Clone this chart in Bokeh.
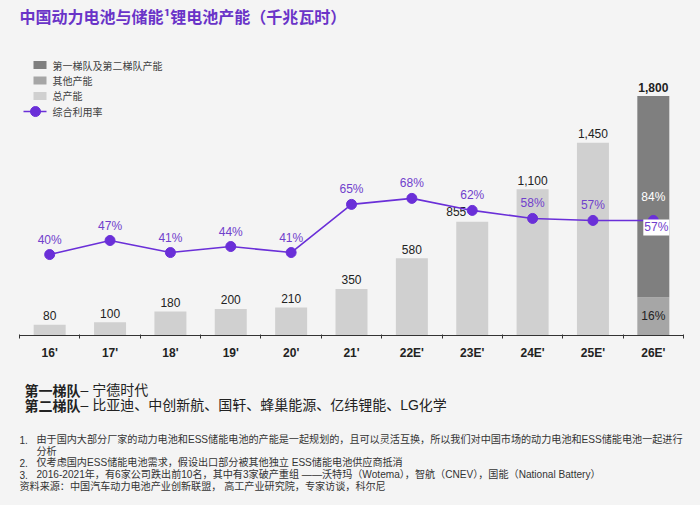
from bokeh.plotting import figure
from bokeh.models import Range1d, FixedTicker, Label
from bokeh.layouts import column
from bokeh.embed import file_html
from bokeh.resources import INLINE
from bokeh.core.properties import value

# ---------------- data ----------------
categories = ["16'", "17'", "18'", "19'", "20'", "21'", "22E'", "23E'", "24E'", "25E'", "26E'"]
total_capacity = [80, 100, 180, 200, 210, 350, 580, 855, 1100, 1450, 1800]
utilization = [40, 47, 41, 44, 41, 65, 68, 62, 58, 57, 57]
tier12_share_26 = 84
other_share_26 = 16

title_text = "中国动力电池与储能¹锂电池产能（千兆瓦时）"
legend_labels = ["第一梯队及第二梯队产能", "其他产能", "总产能", "综合利用率"]
tier_lines = [("第一梯队", "– 宁德时代"),
              ("第二梯队", "– 比亚迪、中创新航、国轩、蜂巢能源、亿纬锂能、LG化学")]
note_nums = ["1.", "", "2.", "3.", ""]
note_texts = [
    "由于国内大部分厂家的动力电池和ESS储能电池的产能是一起规划的，且可以灵活互换，所以我们对中国市场的动力电池和ESS储能电池一起进行",
    "分析",
    "仅考虑国内ESS储能电池需求，假设出口部分被其他独立 ESS储能电池供应商抵消",
    "2016-2021年，有6家公司跌出前10名，其中有3家破产重组 ——沃特玛（Wotema），智航（CNEV），国能（National Battery）",
    "资料来源：中国汽车动力电池产业创新联盟， 高工产业研究院，专家访谈，科尔尼",
]

# ---------------- styles ----------------
BG = "#f4f4f4"
C_DARK = "#7f7f7f"
C_MID = "#a6a6a6"
C_LIGHT = "#d0d0d0"
PURPLE = "#6a2fd8"
PURPLE_TXT = "#7040cc"
TITLE_C = "#6a34c8"
TXT = "#222222"
CJK = value("Noto Sans CJK SC")
LAT = value("Liberation Sans")
MIX = value("Liberation Sans, Noto Sans CJK SC")

W = 700
FL, FR = 19, 683          # frame left / right (page px)
FRAME_H = 337             # frame from page y 0 to 337 (axis line)
n = len(categories)
idx = list(range(n))

p = figure(width=W, height=FRAME_H + 25, output_backend="svg", toolbar_location=None,
           x_range=Range1d(-0.5, n - 0.5), y_range=Range1d(0, FRAME_H / 0.1338),
           y_axis_location=None, title=None,
           min_border_left=FL, min_border_right=W - FR, min_border_top=0, min_border_bottom=25)
p.extra_y_ranges = {"pct": Range1d(-0.35, (FRAME_H - 0.7) / 2.014 - 0.35),
                    "pxy": Range1d(FRAME_H, 0)}
p.extra_x_ranges = {"px": Range1d(FL, FR)}
p.background_fill_color = BG
p.border_fill_color = BG
p.outline_line_color = None
p.xgrid.grid_line_color = None
p.ygrid.grid_line_color = None

# bars
last = n - 1
p.vbar(x=idx[:last], top=total_capacity[:last], width=0.53,
       fill_color=C_LIGHT, line_color=None)
other_top = total_capacity[last] * other_share_26 / 100
p.vbar(x=[last], bottom=[0], top=[other_top], width=0.53, fill_color=C_MID, line_color=None)
p.vbar(x=[last], bottom=[other_top], top=[total_capacity[last]], width=0.53,
       fill_color=C_DARK, line_color=None)

# bar value labels
lab_i = [i for i in range(last) if i != 7]
p.text(x=[idx[i] for i in lab_i], y=[total_capacity[i] for i in lab_i],
       text=[f"{total_capacity[i]:,}" for i in lab_i],
       text_align="center", text_baseline="middle", y_offset=-9,
       text_font=LAT, text_font_size="12px", text_color=TXT)
p.text(x=[idx[7]], y=[total_capacity[7]], text=[f"{total_capacity[7]:,}"],
       text_align="right", text_baseline="middle", x_offset=-6, y_offset=-10,
       text_font=LAT, text_font_size="12px", text_color=TXT)
p.text(x=[idx[last]], y=[total_capacity[last]], text=[f"{total_capacity[last]:,}"],
       text_align="center", text_baseline="middle", y_offset=-9,
       text_font=LAT, text_font_size="12px", text_font_style="bold", text_color=TXT)
p.text(x=[idx[last]], y=[total_capacity[last] * (other_share_26 + tier12_share_26 / 2) / 100],
       text=[f"{tier12_share_26}%"], text_align="center", text_baseline="middle",
       text_font=LAT, text_font_size="12px", text_color="white")
p.text(x=[idx[last]], y=[other_top / 2], text=[f"{other_share_26}%"],
       text_align="center", text_baseline="middle",
       text_font=LAT, text_font_size="12px", text_color=TXT)

# utilization line
p.line(idx, utilization, y_range_name="pct", line_color=PURPLE, line_width=1.6)
p.scatter(idx, utilization, y_range_name="pct", size=10, fill_color=PURPLE, line_color=PURPLE)
p.text(x=idx[:last], y=utilization[:last], y_range_name="pct",
       text=[f"{u}%" for u in utilization[:last]],
       text_align="center", text_baseline="middle", y_offset=-15,
       text_font=LAT, text_font_size="12px", text_color=PURPLE_TXT)
p.add_layout(Label(x=idx[last], y=utilization[last], y_range_name="pct",
                   text=f"{utilization[last]}%", x_offset=3, y_offset=-7,
                   text_align="center", text_baseline="middle",
                   text_font="Liberation Sans", text_font_size="12px", text_color=PURPLE_TXT,
                   background_fill_color="white", padding=1))

# x axis
ax = p.xaxis[0]
ax.ticker = FixedTicker(ticks=idx, minor_ticks=[i - 0.5 for i in range(n + 1)])
ax.major_label_overrides = {i: c for i, c in enumerate(categories)}
ax.axis_line_color = "#333333"
ax.axis_line_width = 1.2
ax.major_tick_line_color = None
ax.major_tick_out = 0
ax.major_tick_in = 0
ax.minor_tick_line_color = "#333333"
ax.minor_tick_out = 3
ax.minor_tick_in = 1
ax.major_label_text_font = "Liberation Sans"
ax.major_label_text_font_style = "bold"
ax.major_label_text_font_size = "12px"
ax.major_label_text_color = TXT
ax.major_label_standoff = 7

# title
p.text(x=[19], y=[16], text=[title_text], x_range_name="px", y_range_name="pxy",
       text_align="left", text_baseline="middle", text_font=CJK, text_font_style="bold",
       text_font_size="16px", text_color=TITLE_C)

# legend (manual)
leg_y = [65, 80.5, 96, 111.7]
p.rect(x=[39.5] * 3, y=leg_y[:3], width=13, height=8,
       width_units="screen", height_units="screen",
       fill_color=[C_DARK, C_MID, C_LIGHT], line_color=None,
       x_range_name="px", y_range_name="pxy")
p.line(x=[23, 46], y=[leg_y[3]] * 2, x_range_name="px", y_range_name="pxy",
       line_color=PURPLE, line_width=1.6)
p.scatter(x=[35], y=[leg_y[3]], x_range_name="px", y_range_name="pxy",
          size=10, fill_color=PURPLE, line_color=PURPLE)
p.text(x=[52] * 4, y=leg_y, text=legend_labels,
       x_range_name="px", y_range_name="pxy", text_align="left", text_baseline="middle",
       text_font=CJK, text_font_size="10px", text_color="#404040")

# ---------------- bottom text panel (page coordinates) ----------------
q = figure(width=W, height=505 - (FRAME_H + 25), output_backend="svg", toolbar_location=None,
           x_range=Range1d(FL, FR), y_range=Range1d(505, FRAME_H + 25),
           x_axis_location=None, y_axis_location=None, title=None,
           min_border_left=FL, min_border_right=W - FR, min_border_top=0, min_border_bottom=0)
q.background_fill_color = BG
q.border_fill_color = BG
q.outline_line_color = None
q.xgrid.grid_line_color = None
q.ygrid.grid_line_color = None

tier_y = [389.5, 404]
q.text(x=[24] * 2, y=tier_y, text=[t[0] for t in tier_lines],
       text_align="left", text_baseline="middle", text_font=CJK, text_font_style="bold",
       text_font_size="14px", text_color=TXT)
q.text(x=[24 + 4 * 14] * 2, y=tier_y, text=[t[1] for t in tier_lines],
       text_align="left", text_baseline="middle", text_font=MIX,
       text_font_size="14px", text_color=TXT)

note_y = [439, 450.5, 462, 474, 486]
num_x = [19, 19, 19, 19, 19]
txt_x = [36, 36, 36, 36, 19]
q.text(x=num_x, y=note_y, text=note_nums,
       text_align="left", text_baseline="middle", text_font=LAT,
       text_font_size="10.1px", text_color="#333333")
q.text(x=txt_x, y=note_y, text=note_texts,
       text_align="left", text_baseline="middle", text_font=MIX,
       text_font_size="10.1px", text_color="#333333")

layout = column(p, q, spacing=0)
html = file_html(layout, INLINE)
html = html.replace("<head>", "<head><style>html,body{margin:0;background:#f4f4f4;}</style>", 1)
open("out.html", "w").write(html)
